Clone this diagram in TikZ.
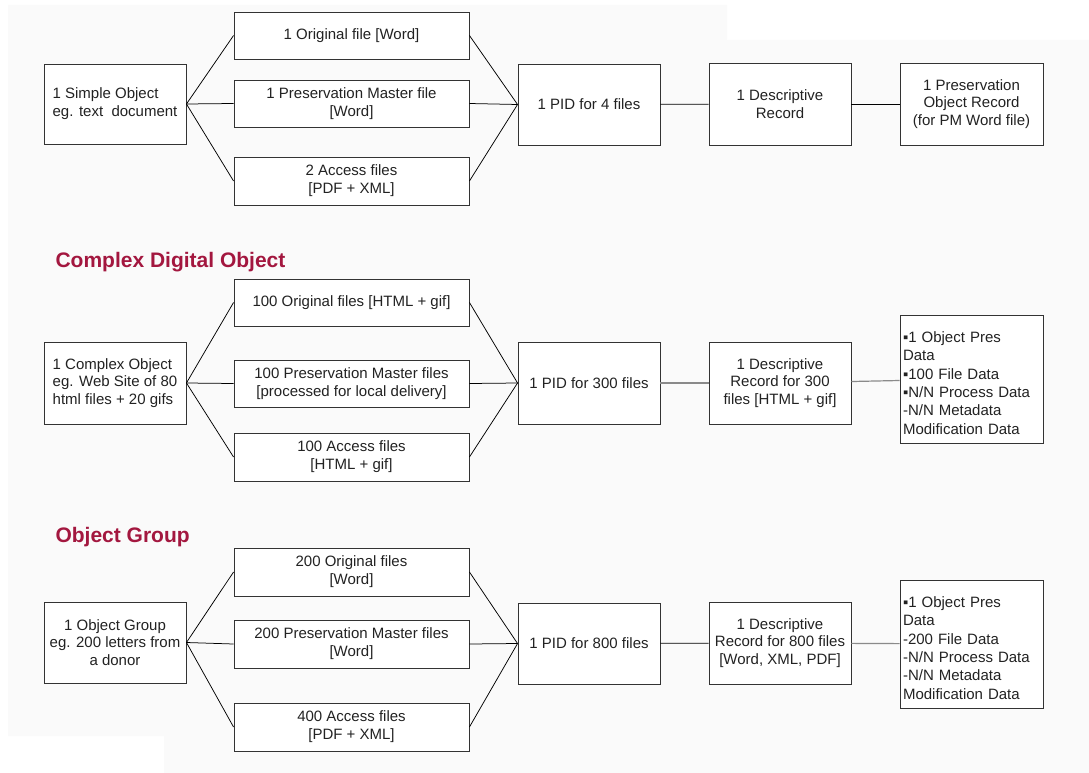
\documentclass[tikz,border=0pt]{standalone}
\usepackage{fontspec}
\setmainfont{Liberation Sans}
\definecolor{pagegray}{HTML}{FAFAFA}
\definecolor{edge}{HTML}{333333}
\definecolor{ink}{HTML}{222222}
\definecolor{headred}{HTML}{A3173F}
\definecolor{softline}{HTML}{8A8A8A}
\begin{document}
\begin{tikzpicture}[x=1pt,y=-1pt,
  box/.style={draw=edge, line width=0.9pt, fill=white, text=ink, align=center,
    inner sep=2pt, font=\fontsize{15}{17.8}\selectfont},
  sbox/.style={box, minimum width=142pt},
  wbox/.style={box, minimum width=235pt},
  listbox/.style={draw=edge, line width=0.9pt, fill=white, minimum width=143pt,
    minimum height=128pt},
  listtext/.style={text=ink, align=left, text width=137pt, inner sep=0pt,
    font=\fontsize{15}{18.4}\selectfont},
  heading/.style={anchor=west, text=headred, font=\fontsize{21}{24}\selectfont\bfseries},
  link/.style={draw=black, line width=0.75pt},
  glink/.style={draw=softline, line width=1.2pt}]
\useasboundingbox (0,0) rectangle (1089,773);
% page background
\fill[pagegray] (8,5) -- (727,5) -- (727,40) -- (1089,40) -- (1089,773)
  -- (164,773) -- (164,736) -- (8,736) -- cycle;

% ---- simple object ----
\node[sbox, minimum height=80pt, align=left] (s1) at (115,104) {1 Simple Object\\eg. text\ \ document};
\node[wbox, minimum height=47pt] (o1) at (351.5,35.5) {1 Original file [Word]};
\node[wbox, minimum height=47pt] (m1) at (351.5,103.5) {1 Preservation Master file\\{}[Word]};
\node[wbox, minimum height=48pt] (a1) at (351.5,181) {2 Access files\\{}[PDF + XML]};
\node[sbox, minimum height=81pt] (p1) at (589,104.5) {1 PID for 4 files};
\node[sbox, minimum height=82pt] (d1) at (780,104) {1 Descriptive\\Record};
\node[box, minimum width=143pt, minimum height=82pt] (r1) at (971.5,104) {1 Preservation\\Object Record\\(for PM Word file)};
\foreach \n in {o1,m1,a1} {
  \draw[link] (s1.east) -- (\n.west);
  \draw[link] (\n.east) -- (p1.west);
}
\draw[link] (p1) -- (d1);
\draw[link] (d1) -- (r1);

% ---- complex digital object ----
\node[heading] (h2) at (52,262) {Complex Digital Object};
\node[sbox, minimum height=82pt, align=left] (s2) at (115,383) {1 Complex Object\\eg. Web Site of 80\\html files + 20 gifs};
\node[wbox, minimum height=47pt] (o2) at (351.5,302.5) {100 Original files [HTML + gif]};
\node[wbox, minimum height=47pt] (m2) at (351.5,383.5) {100 Preservation Master files\\{}[processed for local delivery]};
\node[wbox, minimum height=48pt] (a2) at (351.5,457) {100 Access files\\{}[HTML + gif]};
\node[sbox, minimum height=82pt] (p2) at (589,383) {1 PID for 300 files};
\node[sbox, minimum height=82pt] (d2) at (780,383) {1 Descriptive\\Record for 300\\files [HTML + gif]};
\node[listbox] (r2) at (971.5,379) {};
\node[listtext] (t2) at (r2.center) [yshift=-4pt] {▪1 Object Pres\\Data\\▪100 File Data\\▪N/N Process Data\\-N/N Metadata\\Modification Data};
\foreach \n in {o2,m2,a2} {
  \draw[link] (s2.east) -- (\n.west);
  \draw[link] (\n.east) -- (p2.west);
}
\draw[glink] (p2) -- (d2);
\draw[glink] (d2) -- (r2);

% ---- object group ----
\node[heading] (h3) at (52,537) {Object Group};
\node[sbox, minimum height=81pt] (s3) at (115,642.5) {1 Object Group\\eg. 200 letters from\\a donor};
\node[wbox, minimum height=48pt] (o3) at (351.5,572) {200 Original files\\{}[Word]};
\node[wbox, minimum height=48pt] (m3) at (351.5,644) {200 Preservation Master files\\{}[Word]};
\node[wbox, minimum height=48pt] (a3) at (351.5,727) {400 Access files\\{}[PDF + XML]};
\node[sbox, minimum height=81pt] (p3) at (589,643.5) {1 PID for 800 files};
\node[sbox, minimum height=82pt] (d3) at (780,643) {1 Descriptive\\Record for 800 files\\{}[Word, XML, PDF]};
\node[listbox] (r3) at (971.5,644) {};
\node[listtext] (t3) at (r3.center) [yshift=-4pt] {▪1 Object Pres\\Data\\-200 File Data\\-N/N Process Data\\-N/N Metadata\\Modification Data};
\foreach \n in {o3,m3,a3} {
  \draw[link] (s3.east) -- (\n.west);
  \draw[link] (\n.east) -- (p3.west);
}
\draw[link] (p3) -- (d3);
\draw[glink] (d3) -- (r3);
\end{tikzpicture}
\end{document}
